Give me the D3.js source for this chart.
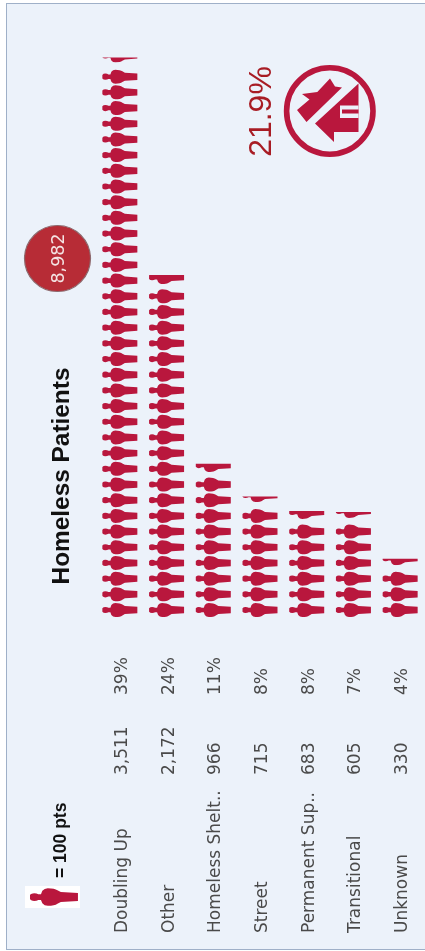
<!DOCTYPE html>
<html><head><meta charset="utf-8">
<script src="https://cdn.jsdelivr.net/npm/d3@7"></script>
<style>html,body{margin:0;padding:0;background:#fff}svg{display:block;filter:blur(0.45px)}</style>
</head><body><svg id="c" width="425" height="951"></svg>
<script>
const categories=["Doubling Up","Other","Homeless Shelt..","Street","Permanent Sup..","Transitional","Unknown"];
const counts=[3511,2172,966,715,683,605,330];
const shares=["39%","24%","11%","8%","8%","7%","4%"];
const partialVisible=[0.34,0.64,0.6,0.4,0.57,0.43,0.46];
const totalLabel="8,982";
const kpiLabel="21.9%";
const titleText="Homeless Patients";
const legendText="= 100 pts";

const W=425,H=951,red="#b9173d",bg="#ecf2fa";
const svg=d3.select("#c");
const defs=svg.append("defs");
const person="M0,-1.8 Q1,-3.1 3,-3.1 Q5,-3.1 6,-2.3 L8,-2.3 L9,-5 Q10.5,-7 13,-7 Q18,-7 20,-5.4 L22.5,-4 L35,-3.2 L35,3.2 L22.5,4 L20,5.4 Q18,7 13,7 Q10.5,7 9,5 L8,2.3 L6,2.3 Q5,3.1 3,3.1 Q1,3.1 0,1.8 Z";

svg.append("rect").attr("width",W).attr("height",H).attr("fill","#fff");
svg.append("rect").attr("x",6.5).attr("y",3.5).attr("width",W).attr("height",946).attr("fill",bg).attr("stroke","#9fb0c8");

const x=d3.scaleBand().domain(categories).range([96.5,423.5]);
const y=d3.scaleLinear().domain([0,35]).range([610,61]);
const iconW=35,iconH=14;
const left=c=>x(c)+(x.bandwidth()-iconW)/2;

const rows=categories.flatMap((c,i)=>{
  const full=Math.floor(counts[i]/100);
  return d3.range(full+1).map(r=>({c,i,r,part:r===full?partialVisible[i]:1}));
});
rows.filter(d=>d.part<1).forEach(d=>{
  const h=iconH*d.part;
  defs.append("clipPath").attr("id","cp"+d.i).append("rect")
    .attr("x",-1).attr("width",iconW+2)
    .attr("y",iconH/2-h).attr("height",h);
});
svg.append("g").selectAll("path").data(rows).join("path")
  .attr("d",person).attr("fill",red)
  .attr("transform",d=>{
    const off=d.part<1?-(iconH/2-iconH*d.part/2)-1:0;
    return `translate(${left(d.c)},${y(d.r)+off})`;
  })
  .attr("clip-path",d=>d.part<1?`url(#cp${d.i})`:null);

const colText=(vals,yPos)=>svg.append("g").selectAll("text").data(vals).join("text")
  .attr("transform",(d,i)=>`translate(${x(categories[i])+x.bandwidth()/2+7},${yPos}) rotate(-90)`)
  .attr("text-anchor","start").attr("fill","#4a4a4a")
  .style("font","17px 'DejaVu Sans'").text(d=>d);
colText(categories,933);
colText(counts.map(d3.format(",")),775);
colText(shares,695);

svg.append("text").attr("transform","translate(69,476) rotate(-90)").attr("text-anchor","middle")
  .attr("fill","#111").style("font","bold 24.4px 'Liberation Sans'").text(titleText);

// total bubble
svg.append("circle").attr("cx",57.5).attr("cy",258.5).attr("r",33).attr("fill","#b72c36").attr("stroke","#8d6a6e").attr("stroke-width",1.2);
svg.append("text").attr("transform","translate(64,258.5) rotate(-90)").attr("text-anchor","middle")
  .attr("fill","#f4e4e4").style("font","17.5px 'DejaVu Sans'").text(totalLabel);

// KPI
svg.append("text").attr("transform","translate(271,111.5) rotate(-90)").attr("text-anchor","middle")
  .attr("fill","#a81c24").style("font","32px 'Liberation Sans'").text(kpiLabel);
const g=svg.append("g");
g.append("circle").attr("cx",329.8).attr("cy",111).attr("r",43.2).attr("fill",bg).attr("stroke",red).attr("stroke-width",5.6);
g.append("path").attr("fill",red).attr("d","M302,94 L317.3,92 L330,78.5 L335,86.5 L342,87.5 L306.5,122 L297,110 L309.5,99.5 Z");
g.append("path").attr("fill",red).attr("d","M358.5,83.5 L358.5,132 L334,132 L334,142 L315,123.5 Z");
g.append("path").attr("fill",bg).attr("d","M340,105.5 H358.5 V118 H340 Z");
g.append("path").attr("fill",red).attr("d","M342,109.5 H358.5 V113.5 H342 Z");

// legend
svg.append("rect").attr("x",25).attr("y",886).attr("width",55).attr("height",22).attr("fill","#fff");
svg.append("path").attr("d",person).attr("fill",red).attr("transform","translate(30,897) scale(1.37,1.25)");
svg.append("text").attr("transform","translate(66,878) rotate(-90)").attr("text-anchor","start")
  .attr("fill","#111").style("font","bold 17.5px 'Liberation Sans'").text(legendText);
</script></body></html>
